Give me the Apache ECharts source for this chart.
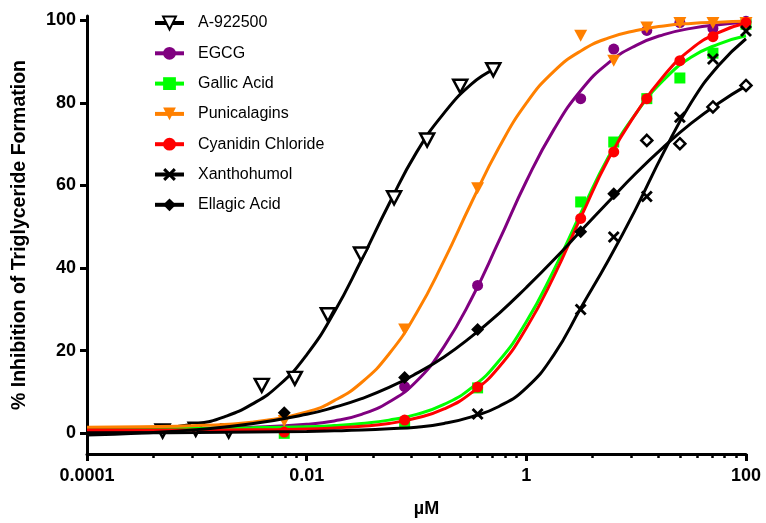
<!DOCTYPE html>
<html><head><meta charset="utf-8">
<script src="https://cdn.jsdelivr.net/npm/echarts@6/dist/echarts.min.js"></script>
<style>html,body{margin:0;padding:0;background:#fff}#c{width:766px;height:523px}</style>
</head><body><div id="c"></div>
<script>
// ---------- DATA ----------
const names = ['A-922500','EGCG','Gallic Acid','Punicalagins','Cyanidin Chloride','Xanthohumol','Ellagic Acid'];

// fitted-curve samples (µM, % inhibition)
const curveX  = [0.0001,0.000316,0.001,0.00316,0.01,0.0178,0.0316,0.0562,0.1,0.178,0.316,0.562,1,1.78,3.16,5.62,10,17.8,31.6,56.2,100];
const curveXA = [0.0001,0.000316,0.001,0.00178,0.00316,0.00562,0.01,0.0178,0.0316,0.0562,0.1,0.178,0.316,0.5];
const curveA      = [0.2,0.75,2.3,4.0,7.0,11.7,19,29.3,42,55.5,68,77.5,84.5,88];
const curveEGCG   = [1.0,1.05,1.15,1.5,2.2,3.0,4.6,7.6,12.6,21,32.5,46.5,61,73.5,83.1,89.7,93.9,96.5,98,98.9,99.4];
const curveGallic = [1.2,1.22,1.25,1.35,1.6,1.9,2.4,3.2,4.6,7.0,11.0,17.5,27,39.5,53.5,67,77.5,85.5,91,94.2,96.2];
const curvePunic  = [1.5,1.6,1.9,2.7,5.2,7.9,12.3,19.2,29.1,41.8,55.8,69.1,79.9,87.6,92.6,95.7,97.5,98.6,99.2,99.5,99.7];
const curveCyan   = [0.8,0.8,0.82,0.85,1.05,1.3,1.7,2.4,3.7,5.9,9.8,16,25.5,38,52.5,66.5,77.5,86.5,93,97,99.3];
const curveXan    = [0.1,0.15,0.2,0.3,0.45,0.6,0.8,1.1,1.5,2.4,4.0,6.5,11,19,30.5,42,54.5,68,80,89,95.5];
const curveEll    = [-0.4,0.1,0.9,2.3,4.6,6.3,8.4,11.1,14.5,18.5,23.4,29,35.3,42,49.1,56.1,63,69.3,75,79.9,84.1];

// measured points
const concA   = [0.000488,0.000977,0.00195,0.0039,0.0078,0.0156,0.03125,0.0625,0.125,0.25,0.5];
const pointsA = [0.55,1.0,0.55,11.6,13.3,28.7,43.4,57,71,84,88];
const conc          = [0.00625,0.078,0.36,3.125,6.25,12.5,25,50,100];
const pointsEGCG    = [null,11.3,35.8,81,93,97.5,99.4,98,99.7];
const pointsGallic  = [0,2.6,11,56,70.5,81,86,92,99];
const pointsPunic   = [3.0,25.1,59.3,96.2,90.2,98.2,99.3,99.3,99.3];
const pointsCyan    = [0.3,3.2,11.2,52,68.1,81,90.2,96,99.4];
const pointsXan     = [null,null,4.7,30,47.5,57.3,76.5,90.6,97.4];
const pointsEll     = [5.0,13.5,25.1,48.8,58,70.9,70.1,79,84.2];
const ellagicOpen   = [false,false,false,false,false,true,true,true,true];

// axes
const xTickValues = [0.0001,0.01,1,100];
const xTickLabels = ['0.0001','0.01','1','100'];
const xMinorValues = [0.0004,0.0009,0.0016,0.0025,0.0036,0.0049,0.0064,0.0081,
                      0.04,0.09,0.16,0.25,0.36,0.49,0.64,0.81,
                      4,9,16,25,36,49,64,81];
const yTicks = [0,20,40,60,80,100];

// ---------- STYLE ----------
const FONT = '"Liberation Sans", Arial, Helvetica, sans-serif';
const TRI_DOWN = 'path://M0,0 L12,0 L6,11 Z';
const XMARK = 'path://M0,2 L2,0 L6,4 L10,0 L12,2 L8,6 L12,10 L10,12 L6,8 L2,12 L0,10 L4,6 Z';
const styles = {
  'A-922500':          {color:'#000000', symbol:TRI_DOWN, size:[14,13], fill:'#ffffff', border:'#000000', bw:2.5},
  'EGCG':              {color:'#800080', symbol:'circle', size:11},
  'Gallic Acid':       {color:'#00ff00', symbol:'rect', size:11},
  'Punicalagins':      {color:'#ff8000', symbol:TRI_DOWN, size:[13,12]},
  'Cyanidin Chloride': {color:'#ff0000', symbol:'circle', size:11},
  'Xanthohumol':       {color:'#000000', symbol:XMARK, size:12},
  'Ellagic Acid':      {color:'#000000', symbol:'diamond', size:13}
};
const curves = {
  'A-922500':[curveXA,curveA], 'EGCG':[curveX,curveEGCG], 'Gallic Acid':[curveX,curveGallic],
  'Punicalagins':[curveX,curvePunic], 'Cyanidin Chloride':[curveX,curveCyan],
  'Xanthohumol':[curveX,curveXan], 'Ellagic Acid':[curveX,curveEll]
};
const points = {
  'A-922500':[concA,pointsA], 'EGCG':[conc,pointsEGCG], 'Gallic Acid':[conc,pointsGallic],
  'Punicalagins':[conc,pointsPunic], 'Cyanidin Chloride':[conc,pointsCyan],
  'Xanthohumol':[conc,pointsXan], 'Ellagic Acid':[conc,pointsEll]
};

const series = [];
names.forEach(function(n, idx){
  const s = styles[n];
  const cv = curves[n];
  series.push({
    type:'line', name:n, xAxisIndex:0, yAxisIndex:0,
    data: cv[0].map(function(x,i){return [x, cv[1][i]];}),
    showSymbol:false, symbol:s.symbol, smooth:0.5,
    lineStyle:{color:s.color, width:3}, itemStyle:{color:s.color},
    silent:true, z:2 + idx*2
  });
  const pv = points[n];
  const data = [];
  pv[0].forEach(function(x,i){
    const v = pv[1][i];
    if (v === null) return;
    const item = {value:[x, v]};
    if (n === 'Ellagic Acid' && ellagicOpen[i]) {
      item.itemStyle = {color:'#ffffff', borderColor:'#000000', borderWidth:2.5};
      item.symbolSize = 11;
    }
    data.push(item);
  });
  series.push({
    type:'scatter', name:n, xAxisIndex:0, yAxisIndex:0, data:data,
    symbol:s.symbol, symbolSize:s.size,
    itemStyle: s.fill ? {color:s.fill, borderColor:s.border, borderWidth:s.bw, opacity:1}
                      : {color:s.color, opacity:1},
    silent:true, z:3 + idx*2
  });
});

const L = function(v){ return Math.log10(v); };
const chart = echarts.init(document.getElementById('c'), null, {renderer:'canvas'});
chart.setOption({
  animation:false,
  backgroundColor:'#ffffff',
  textStyle:{fontFamily:FONT},
  grid:{left:87, right:20, top:16, bottom:66},
  legend:{
    orient:'vertical', left:153, top:15, padding:0, itemWidth:29, itemHeight:16, itemGap:14.3,
    textStyle:{fontFamily:FONT, fontSize:16, color:'#000', padding:[0,0,0,9]},
    data: names.map(function(n){
      const s = styles[n];
      return {name:n,
        itemStyle: s.fill ? {color:s.fill, borderColor:s.border, borderWidth:2} : {color:s.color, borderWidth:0},
        lineStyle:{color:s.color, width:4}};
    }),
    selectedMode:false
  },
  xAxis:[
    {type:'log', logBase:10, min:0.0001, max:100, show:false, gridIndex:0},
    {type:'value', min:L(0.0001), max:L(100), position:'bottom', gridIndex:0,
     axisLine:{show:true, onZero:false, lineStyle:{color:'#000', width:3}},
     axisTick:{show:true, customValues:xTickValues.map(L), length:7, lineStyle:{color:'#000', width:3}},
     axisLabel:{customValues:xTickValues.map(L), margin:13, color:'#000', fontFamily:FONT, fontSize:18, fontWeight:'bold',
       formatter:function(v){ for (let i=0;i<xTickValues.length;i++){ if (Math.abs(L(xTickValues[i])-v)<1e-6) return xTickLabels[i]; } return ''; }},
     splitLine:{show:false},
     name:'µM', nameLocation:'middle', nameGap:46,
     nameTextStyle:{fontFamily:FONT, fontSize:18, fontWeight:'bold', color:'#000', padding:[0,0,0,20]}},
    {type:'value', min:L(0.0001), max:L(100), position:'bottom', gridIndex:0,
     axisLine:{show:false, onZero:false},
     axisTick:{show:true, customValues:xMinorValues.map(L), length:4, lineStyle:{color:'#000', width:2.5}},
     axisLabel:{show:false}, splitLine:{show:false}}
  ],
  yAxis:{type:'value', min:-5, max:101,
    axisLine:{show:true, onZero:false, lineStyle:{color:'#000', width:3}},
    axisTick:{show:true, customValues:yTicks, length:7, lineStyle:{color:'#000', width:3}},
    axisLabel:{customValues:yTicks, margin:11, color:'#000', fontFamily:FONT, fontSize:18, fontWeight:'bold'},
    splitLine:{show:false},
    name:'% Inhibition of Triglyceride Formation', nameLocation:'middle', nameGap:57,
    nameTextStyle:{fontFamily:FONT, fontSize:19.5, fontWeight:'bold', color:'#000'}},
  series:series
});
</script>
</body></html>
